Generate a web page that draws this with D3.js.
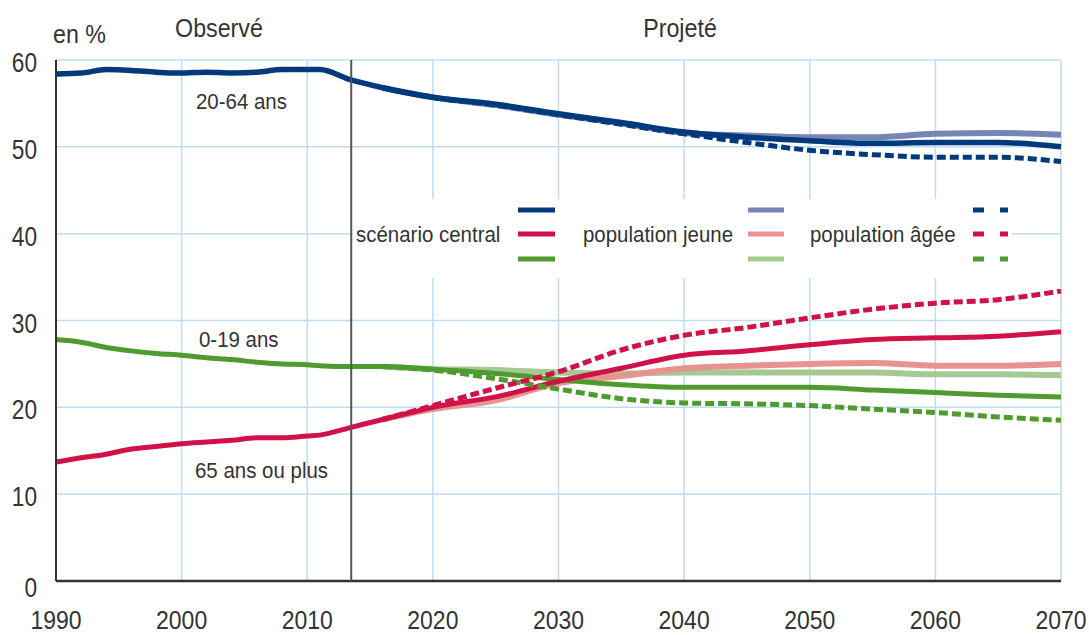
<!DOCTYPE html>
<html><head><meta charset="utf-8">
<script src="https://cdn.jsdelivr.net/npm/d3@7"></script>
<style>html,body{margin:0;padding:0;background:#fff;}svg{display:block;}</style>
</head><body><svg id="c" width="1089" height="635"></svg>
<script>
// ---------- DATA ----------
const yearsCentral = [1990,1992,1994,1996,1998,2000,2002,2004,2006,2008,2010,2011,2013.5,2016,2018,2020,2025,2030,2035,2040,2045,2050,2055,2060,2065,2070];
const adultCentral = [58.4,58.5,58.9,58.8,58.6,58.5,58.6,58.5,58.6,58.9,58.9,58.9,57.7,56.8,56.2,55.7,54.9,53.8,52.8,51.7,51.1,50.7,50.4,50.5,50.5,50.0];
const youngCentral = [27.8,27.5,26.9,26.5,26.2,26.0,25.7,25.5,25.2,25.0,24.9,24.8,24.7,24.7,24.6,24.4,23.9,23.2,22.6,22.3,22.3,22.3,22.0,21.7,21.4,21.2];
const oldCentral   = [13.7,14.2,14.6,15.2,15.5,15.8,16.0,16.2,16.5,16.5,16.7,16.8,17.7,18.6,19.3,20.0,21.2,23.0,24.5,26.0,26.5,27.2,27.8,28.0,28.2,28.7];

const yearsProj  = [2016,2020,2025,2030,2035,2040,2045,2050,2055,2060,2065,2070];
const adultJeune = [56.8,55.7,54.8,53.7,52.7,51.6,51.3,51.1,51.1,51.5,51.6,51.4];
const adultAgee  = [56.8,55.7,54.8,53.7,52.6,51.5,50.5,49.6,49.1,48.8,48.8,48.3];
const youngJeune = [24.7,24.4,24.3,24.0,23.9,24.0,24.0,24.0,24.0,23.8,23.8,23.7];
const youngAgee  = [24.7,24.3,23.3,22.1,21.0,20.5,20.4,20.2,19.8,19.4,18.9,18.5];
const oldJeune   = [18.6,19.8,20.8,22.8,23.6,24.5,24.8,25.0,25.1,24.8,24.8,25.0];
const oldAgee    = [18.6,20.2,22.2,24.1,26.6,28.3,29.2,30.3,31.3,32.0,32.4,33.4];

const observedEnd = 2013.5;
const xTicks = [1990,2000,2010,2020,2030,2040,2050,2060,2070];
const yTicks = [0,10,20,30,40,50,60];
const legendRows = ["scénario central","population jeune","population âgée"];

// ---------- STYLE ----------
const C = {
  navy:"#003a7d", navyL:"#7485b6",
  red:"#d01248", redL:"#e8938f",
  green:"#4f9b30", greenL:"#a5c992",
  grid:"#bfdcf3", axis:"#333", text:"#333"
};
const FONT = "'Liberation Sans', Arial, sans-serif";

const svg = d3.select("#c");
const x = d3.scaleLinear().domain([1990,2070]).range([56,1061]);
const y = d3.scaleLinear().domain([0,60]).range([581,60]);

function txt(px, py, s, size, anchor, sx){
  svg.append("text")
    .attr("transform",`translate(${px},${py}) scale(${sx||0.93},1)`)
    .attr("text-anchor",anchor||"start")
    .attr("font-family",FONT).attr("font-size",size)
    .attr("fill",C.text).text(s);
}

// grid
svg.append("g").selectAll("line").data(yTicks.filter(d=>d>0)).join("line")
  .attr("x1",x(1990)).attr("x2",x(2070)).attr("y1",d=>y(d)).attr("y2",d=>y(d))
  .attr("stroke",C.grid).attr("stroke-width",1.5);
svg.append("g").selectAll("line").data(xTicks.filter(d=>d>1990)).join("line")
  .attr("x1",d=>x(d)).attr("x2",d=>x(d)).attr("y1",y(0)).attr("y2",y(60))
  .attr("stroke",C.grid).attr("stroke-width",1.5);

// lines
const line = d3.line().x(d=>x(d[0])).y(d=>y(d[1])).curve(d3.curveMonotoneX);
function draw(years, vals, color, w, dash){
  svg.append("path").datum(years.map((yr,i)=>[yr,vals[i]]))
    .attr("d",line).attr("fill","none").attr("stroke",color)
    .attr("stroke-width",w).attr("stroke-linejoin","round")
    .attr("stroke-dasharray",dash||null);
}
draw(yearsProj, adultJeune, C.navyL, 6);
draw(yearsProj, youngJeune, C.greenL, 6);
draw(yearsProj, oldJeune, C.redL, 6);
draw(yearsCentral, adultCentral, C.navy, 5.5);
draw(yearsCentral, youngCentral, C.green, 5);
draw(yearsCentral, oldCentral, C.red, 5);
draw(yearsProj, adultAgee, C.navy, 5, "9,4");
draw(yearsProj, youngAgee, C.green, 5, "9,4");
draw(yearsProj, oldAgee, C.red, 5, "9,4");

// axes
svg.append("line").attr("x1",x(1990)).attr("x2",x(1990)).attr("y1",y(60)).attr("y2",y(0))
  .attr("stroke",C.axis).attr("stroke-width",2);
svg.append("line").attr("x1",x(1990)).attr("x2",x(2070)).attr("y1",y(0)).attr("y2",y(0))
  .attr("stroke",C.axis).attr("stroke-width",2.5);
svg.append("line").attr("x1",x(observedEnd)).attr("x2",x(observedEnd)).attr("y1",y(60)).attr("y2",y(0))
  .attr("stroke","#555").attr("stroke-width",2);

// tick labels
yTicks.forEach(v=>txt(37, y(v) + (v===0?16:12), String(v), 27, "end", 0.84));
xTicks.forEach(v=>txt(x(v), 628.5, String(v), 25, "middle", 0.92));

// titles
txt(53, 43, "en %", 25);
txt(219, 37, "Observé", 25, "middle");
txt(680, 37, "Projeté", 25, "middle");

// annotations
txt(196, 109, "20-64 ans", 22);
txt(199, 347, "0-19 ans", 22);
txt(195, 478, "65 ans ou plus", 22);

// legend
svg.append("rect").attr("x",353).attr("y",199).attr("width",659).attr("height",79).attr("fill","#fff");
txt(356, 242, legendRows[0], 22);
txt(583, 242, legendRows[1], 22);
txt(810, 242, legendRows[2], 22);
const rowY = [210,234,259];
const rowCols = [[C.navy,C.red,C.green],[C.navyL,C.redL,C.greenL],[C.navy,C.red,C.green]];
const colX = [[518,555],[748,784],[973,1008]];
colX.forEach((cx,ci)=>{
  rowY.forEach((ry,ri)=>{
    svg.append("line").attr("x1",cx[0]).attr("x2",cx[1]).attr("y1",ry).attr("y2",ry)
      .attr("stroke",rowCols[ci][ri]).attr("stroke-width",5)
      .attr("stroke-dasharray",ci===2?"11,16":null);
  });
});
</script></body></html>
